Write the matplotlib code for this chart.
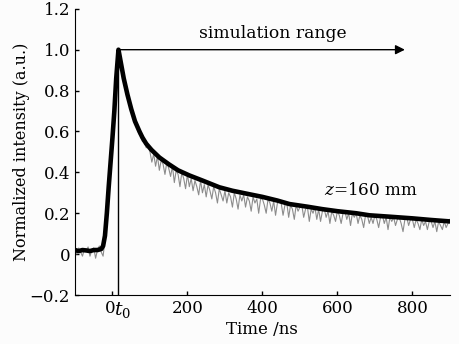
import numpy as np
import matplotlib
matplotlib.use("Agg")
import matplotlib.pyplot as plt
from matplotlib.transforms import ScaledTranslation

# ---- data ----
fit_t = [-100, -90, -80, -70, -60, -50, -40, -30, -25, -20, -15, -10, -5, 0, 5, 10, 16,
         22, 30, 40, 50, 60, 72, 80, 90, 104, 125, 150, 175, 205, 240, 285, 320, 365,
         400, 440, 472, 520, 560, 600, 650, 685, 740, 800, 850, 900]
fit_y = [0.02, 0.015, 0.02, 0.018, 0.015, 0.02, 0.02, 0.025, 0.04, 0.09, 0.2, 0.33, 0.45, 0.57, 0.7, 0.86, 1.0,
         0.94, 0.86, 0.78, 0.71, 0.65, 0.6, 0.57, 0.54, 0.51, 0.473, 0.44, 0.41, 0.385, 0.36, 0.327, 0.31, 0.293,
         0.28, 0.262, 0.245, 0.232, 0.22, 0.21, 0.2, 0.19, 0.183, 0.175, 0.167, 0.16]

raw_t = list(range(-100, 901, 5))
raw_y = [0.02, 0.0, 0.03, 0.01, -0.01, 0.025, 0.015, 0.035, -0.01, 0.02,
         0.03, -0.02, 0.02, 0.04, 0.01, -0.01, 0.07, 0.19, 0.32, 0.44,
         0.57, 0.70, 0.86, 0.97, 0.95, 0.90, 0.85, 0.81, 0.77, 0.74,
         0.70, 0.68, 0.64, 0.63, 0.59, 0.58, 0.55, 0.56, 0.52, 0.53,
         0.50, 0.45, 0.49, 0.43, 0.48, 0.41, 0.46, 0.44, 0.39, 0.45,
         0.42, 0.38, 0.43, 0.35, 0.41, 0.39, 0.33, 0.40, 0.37, 0.32,
         0.39, 0.33, 0.37, 0.31, 0.36, 0.33, 0.29, 0.36, 0.30, 0.34,
         0.28, 0.34, 0.31, 0.27, 0.33, 0.30, 0.25, 0.32, 0.29, 0.26,
         0.31, 0.25, 0.30, 0.28, 0.23, 0.30, 0.27, 0.22, 0.29, 0.26,
         0.29, 0.23, 0.28, 0.26, 0.21, 0.28, 0.25, 0.27, 0.20, 0.27,
         0.27, 0.24, 0.20, 0.27, 0.25, 0.21, 0.26, 0.19, 0.25, 0.26,
         0.25, 0.19, 0.24, 0.25, 0.18, 0.24, 0.22, 0.17, 0.24, 0.21,
         0.23, 0.24, 0.18, 0.22, 0.23, 0.16, 0.22, 0.20, 0.23, 0.17,
         0.22, 0.16, 0.21, 0.22, 0.18, 0.21, 0.15, 0.21, 0.19, 0.16,
         0.21, 0.19, 0.15, 0.20, 0.21, 0.17, 0.20, 0.14, 0.20, 0.18,
         0.20, 0.15, 0.19, 0.17, 0.13, 0.19, 0.19, 0.15, 0.18, 0.15,
         0.19, 0.17, 0.13, 0.18, 0.19, 0.15, 0.18, 0.12, 0.18, 0.16,
         0.18, 0.14, 0.17, 0.18, 0.15, 0.11, 0.17, 0.18, 0.14, 0.17,
         0.17, 0.13, 0.17, 0.15, 0.12, 0.17, 0.14, 0.16, 0.12, 0.16,
         0.16, 0.13, 0.16, 0.11, 0.16, 0.14, 0.12, 0.16, 0.13, 0.15,
         0.17]

x_ticks = [0, 200, 400, 600, 800]
y_ticks = [-0.2, 0, 0.2, 0.4, 0.6, 0.8, 1.0, 1.2]
y_tick_labels = ["\u22120.2", "0", "0.2", "0.4", "0.6", "0.8", "1.0", "1.2"]
t0 = 16
arrow_end = 780

plt.rcParams['font.family'] = ['DejaVu Serif']
plt.rcParams['mathtext.fontset'] = 'dejavuserif'

fig = plt.figure(figsize=(4.6, 3.44), dpi=100, facecolor='#fcfcfc')
ax = fig.add_axes([0.163, 0.1424, 0.815, 0.832])
ax.set_facecolor('#fcfcfc')

ax.plot(raw_t, raw_y, color='#8c8c8c', lw=0.8)
ax.plot(fit_t, fit_y, color='black', lw=3.3, solid_joinstyle='round')

ax.plot([t0, t0], [-0.2, 1.0], color='black', lw=1.0)
ax.annotate('', xy=(arrow_end, 1.0), xytext=(t0, 1.0),
            arrowprops=dict(arrowstyle='-|>', color='black', lw=1.0, mutation_scale=14,
                            shrinkA=0, shrinkB=0))
ax.text(427, 1.08, 'simulation range', ha='center', va='center', fontsize=12.3)
ax.text(690, 0.31, r'$z$=160 mm', ha='center', va='center', fontsize=12.2)

ax.set_xlim(-100, 900)
ax.set_ylim(-0.2, 1.2)
ax.set_xticks(x_ticks)
ax.set_yticks(y_ticks)
ax.set_yticklabels(y_tick_labels)
ax.tick_params(direction='in', length=3, width=1, labelsize=12)
# shift the "0" tick label slightly left, as in the reference
for lab in ax.get_xticklabels():
    if lab.get_text() == '0':
        lab.set_transform(lab.get_transform() + ScaledTranslation(-1.5 / 72, 0, fig.dpi_scale_trans))
ax.annotate(r'$t_0$', xy=(28, 0), xycoords=('data', 'axes fraction'),
            xytext=(0, -3.5), textcoords='offset points', ha='center', va='top', fontsize=13.5)
for s in ['top', 'right']:
    ax.spines[s].set_visible(False)
ax.set_xlabel('Time /ns', fontsize=12, labelpad=3)
ax.set_ylabel('Normalized intensity (a.u.)', fontsize=11.5, labelpad=0)

fig.savefig('out.png', dpi=100, facecolor=fig.get_facecolor())
